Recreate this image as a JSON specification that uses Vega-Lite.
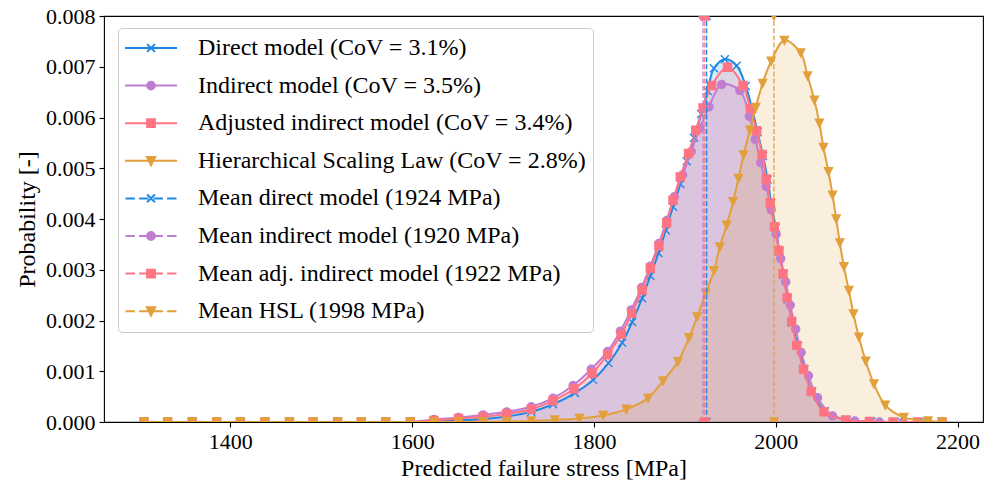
{
  "$schema": "https://vega.github.io/schema/vega-lite/v6.json",
  "width": 879,
  "height": 406,
  "autosize": {"type": "none"},
  "padding": {"left": 104, "top": 16, "right": 1, "bottom": 61},
  "background": "white",
  "config": {
    "font": "Liberation Serif",
    "view": {"stroke": "#000", "strokeWidth": 1.1},
    "axis": {
      "labelFont": "Liberation Serif", "labelFontSize": 22, "labelColor": "#000",
      "titleFont": "Liberation Serif", "titleFontSize": 24, "titleFontWeight": "normal", "titleColor": "#000",
      "tickColor": "#000", "tickSize": 5, "tickWidth": 1.1, "domain": false, "grid": false, "labelPadding": 4
    },
    "legend": {
      "labelFont": "Liberation Serif", "labelFontSize": 24, "labelColor": "#000", "labelLimit": 0
    }
  },
  "datasets": {
    "curves": [
      {"s":"direct","x":1305,"y":0},{"s":"direct","x":1331,"y":0},{"s":"direct","x":1358,"y":0},{"s":"direct","x":1385,"y":0},{"s":"direct","x":1411,"y":0},{"s":"direct","x":1438,"y":0},{"s":"direct","x":1465,"y":0},{"s":"direct","x":1491,"y":0},{"s":"direct","x":1518,"y":0},{"s":"direct","x":1544,"y":0},{"s":"direct","x":1571,"y":0},{"s":"direct","x":1598,"y":0},
      {"s":"direct","x":1624,"y":0.00001},{"s":"direct","x":1651,"y":0.00003},{"s":"direct","x":1678,"y":0.00006},{"s":"direct","x":1704,"y":0.00011},{"s":"direct","x":1731,"y":0.0002},{"s":"direct","x":1755,"y":0.00035},{"s":"direct","x":1779,"y":0.00057},{"s":"direct","x":1799,"y":0.00083},{"s":"direct","x":1816,"y":0.00116},{"s":"direct","x":1831,"y":0.00156},{"s":"direct","x":1842,"y":0.00197},{"s":"direct","x":1853,"y":0.00244},{"s":"direct","x":1862,"y":0.00288},{"s":"direct","x":1871,"y":0.00333},{"s":"direct","x":1879,"y":0.00378},{"s":"direct","x":1887,"y":0.00424},{"s":"direct","x":1895,"y":0.00469},{"s":"direct","x":1902,"y":0.00514},{"s":"direct","x":1910,"y":0.0056},{"s":"direct","x":1918,"y":0.00607},{"s":"direct","x":1925,"y":0.00652},{"s":"direct","x":1932,"y":0.00697},{"s":"direct","x":1944,"y":0.00715},{"s":"direct","x":1957,"y":0.00702},{"s":"direct","x":1967,"y":0.00662},{"s":"direct","x":1974,"y":0.00617},{"s":"direct","x":1980,"y":0.00571},{"s":"direct","x":1986,"y":0.00524},{"s":"direct","x":1991,"y":0.00478},{"s":"direct","x":1995,"y":0.00431},{"s":"direct","x":2000,"y":0.00383},{"s":"direct","x":2004,"y":0.00336},{"s":"direct","x":2008.5,"y":0.0029},{"s":"direct","x":2013,"y":0.00242},{"s":"direct","x":2018,"y":0.00196},{"s":"direct","x":2024.5,"y":0.0015},{"s":"direct","x":2031.5,"y":0.00103},{"s":"direct","x":2040,"y":0.00059},{"s":"direct","x":2054,"y":0.00021},{"s":"direct","x":2078,"y":0.00004},{"s":"direct","x":2105,"y":0.00001},{"s":"direct","x":2131,"y":0},{"s":"direct","x":2158,"y":0},{"s":"direct","x":2183,"y":0},

      {"s":"indirect","x":1305,"y":0},{"s":"indirect","x":1331,"y":0},{"s":"indirect","x":1358,"y":0},{"s":"indirect","x":1385,"y":0},{"s":"indirect","x":1411,"y":0},{"s":"indirect","x":1438,"y":0},{"s":"indirect","x":1465,"y":0},{"s":"indirect","x":1491,"y":0},{"s":"indirect","x":1518,"y":0},{"s":"indirect","x":1544,"y":0},{"s":"indirect","x":1571,"y":0},{"s":"indirect","x":1598,"y":0},
      {"s":"indirect","x":1624,"y":0.00005},{"s":"indirect","x":1651,"y":0.00009},{"s":"indirect","x":1678,"y":0.00014},{"s":"indirect","x":1704,"y":0.0002},{"s":"indirect","x":1731,"y":0.0003},{"s":"indirect","x":1755,"y":0.00047},{"s":"indirect","x":1777,"y":0.00072},{"s":"indirect","x":1797,"y":0.00104},{"s":"indirect","x":1815,"y":0.00139},{"s":"indirect","x":1829,"y":0.00179},{"s":"indirect","x":1841,"y":0.00221},{"s":"indirect","x":1852.5,"y":0.00265},{"s":"indirect","x":1862,"y":0.00307},{"s":"indirect","x":1871.5,"y":0.00352},{"s":"indirect","x":1880,"y":0.00397},{"s":"indirect","x":1888.5,"y":0.00444},{"s":"indirect","x":1897.5,"y":0.00487},{"s":"indirect","x":1907,"y":0.00533},{"s":"indirect","x":1916.5,"y":0.00579},{"s":"indirect","x":1926.5,"y":0.00621},{"s":"indirect","x":1940.5,"y":0.00665},{"s":"indirect","x":1960.5,"y":0.00653},{"s":"indirect","x":1971,"y":0.00602},{"s":"indirect","x":1977.5,"y":0.00557},{"s":"indirect","x":1983.5,"y":0.00511},{"s":"indirect","x":1989.5,"y":0.00464},{"s":"indirect","x":1995,"y":0.00418},{"s":"indirect","x":2000.5,"y":0.0037},{"s":"indirect","x":2005.5,"y":0.00322},{"s":"indirect","x":2011,"y":0.00276},{"s":"indirect","x":2016,"y":0.0023},{"s":"indirect","x":2022,"y":0.00183},{"s":"indirect","x":2028,"y":0.00137},{"s":"indirect","x":2036,"y":0.00091},{"s":"indirect","x":2046,"y":0.00048},{"s":"indirect","x":2062.5,"y":0.00012},{"s":"indirect","x":2087,"y":0.00002},{"s":"indirect","x":2114,"y":0},{"s":"indirect","x":2140,"y":0},{"s":"indirect","x":2167,"y":0},{"s":"indirect","x":2183,"y":0},

      {"s":"adjusted","x":1305,"y":0},{"s":"adjusted","x":1331,"y":0},{"s":"adjusted","x":1358,"y":0},{"s":"adjusted","x":1385,"y":0},{"s":"adjusted","x":1411,"y":0},{"s":"adjusted","x":1438,"y":0},{"s":"adjusted","x":1465,"y":0},{"s":"adjusted","x":1491,"y":0},{"s":"adjusted","x":1518,"y":0},{"s":"adjusted","x":1544,"y":0},{"s":"adjusted","x":1571,"y":0},{"s":"adjusted","x":1598,"y":0},
      {"s":"adjusted","x":1624,"y":0.00003},{"s":"adjusted","x":1651,"y":0.00007},{"s":"adjusted","x":1678,"y":0.0001},{"s":"adjusted","x":1704,"y":0.00016},{"s":"adjusted","x":1731,"y":0.00025},{"s":"adjusted","x":1755,"y":0.00042},{"s":"adjusted","x":1778,"y":0.00065},{"s":"adjusted","x":1798,"y":0.00096},{"s":"adjusted","x":1815,"y":0.00133},{"s":"adjusted","x":1830,"y":0.00173},{"s":"adjusted","x":1841.5,"y":0.00214},{"s":"adjusted","x":1853,"y":0.0026},{"s":"adjusted","x":1862,"y":0.00303},{"s":"adjusted","x":1871.5,"y":0.00347},{"s":"adjusted","x":1880,"y":0.00392},{"s":"adjusted","x":1887,"y":0.00437},{"s":"adjusted","x":1895,"y":0.00483},{"s":"adjusted","x":1904,"y":0.00529},{"s":"adjusted","x":1912,"y":0.00575},{"s":"adjusted","x":1920,"y":0.00619},{"s":"adjusted","x":1929.5,"y":0.00663},{"s":"adjusted","x":1947,"y":0.00699},{"s":"adjusted","x":1964,"y":0.00663},{"s":"adjusted","x":1972,"y":0.00618},{"s":"adjusted","x":1979,"y":0.00574},{"s":"adjusted","x":1985,"y":0.00527},{"s":"adjusted","x":1989.5,"y":0.00479},{"s":"adjusted","x":1994,"y":0.00432},{"s":"adjusted","x":1998.5,"y":0.00385},{"s":"adjusted","x":2003.5,"y":0.00338},{"s":"adjusted","x":2008,"y":0.00292},{"s":"adjusted","x":2012.5,"y":0.00245},{"s":"adjusted","x":2017.5,"y":0.00198},{"s":"adjusted","x":2023,"y":0.00151},{"s":"adjusted","x":2030.5,"y":0.00104},{"s":"adjusted","x":2039,"y":0.0006},{"s":"adjusted","x":2053,"y":0.0002},{"s":"adjusted","x":2077,"y":0.00004},{"s":"adjusted","x":2103,"y":0.00001},{"s":"adjusted","x":2129,"y":0},{"s":"adjusted","x":2156,"y":0},{"s":"adjusted","x":2183,"y":0},

      {"s":"hsl","x":1305,"y":0},{"s":"hsl","x":1331,"y":0},{"s":"hsl","x":1358,"y":0},{"s":"hsl","x":1385,"y":0},{"s":"hsl","x":1411,"y":0},{"s":"hsl","x":1438,"y":0},{"s":"hsl","x":1465,"y":0},{"s":"hsl","x":1491,"y":0},{"s":"hsl","x":1518,"y":0},{"s":"hsl","x":1544,"y":0},{"s":"hsl","x":1571,"y":0},{"s":"hsl","x":1598,"y":0},{"s":"hsl","x":1624,"y":0},{"s":"hsl","x":1651,"y":0},
      {"s":"hsl","x":1678,"y":0.000005},{"s":"hsl","x":1704,"y":0.00001},{"s":"hsl","x":1731,"y":0.00002},{"s":"hsl","x":1757,"y":0.00004},{"s":"hsl","x":1784,"y":0.00007},{"s":"hsl","x":1810,"y":0.00013},{"s":"hsl","x":1835.5,"y":0.00025},{"s":"hsl","x":1859.5,"y":0.00047},{"s":"hsl","x":1876,"y":0.00081},{"s":"hsl","x":1892.5,"y":0.00119},{"s":"hsl","x":1904.5,"y":0.00166},{"s":"hsl","x":1913.5,"y":0.00207},{"s":"hsl","x":1923,"y":0.00254},{"s":"hsl","x":1932,"y":0.00298},{"s":"hsl","x":1938.5,"y":0.00345},{"s":"hsl","x":1946,"y":0.00388},{"s":"hsl","x":1953,"y":0.00434},{"s":"hsl","x":1959,"y":0.0048},{"s":"hsl","x":1964.5,"y":0.00526},{"s":"hsl","x":1971.5,"y":0.00575},{"s":"hsl","x":1978,"y":0.0062},{"s":"hsl","x":1985.5,"y":0.00667},{"s":"hsl","x":1995,"y":0.00711},{"s":"hsl","x":2009.5,"y":0.00752},{"s":"hsl","x":2027.5,"y":0.00727},{"s":"hsl","x":2035,"y":0.00682},{"s":"hsl","x":2042.5,"y":0.00634},{"s":"hsl","x":2048,"y":0.00589},{"s":"hsl","x":2052.5,"y":0.00541},{"s":"hsl","x":2058,"y":0.00493},{"s":"hsl","x":2062.5,"y":0.00447},{"s":"hsl","x":2066.5,"y":0.004},{"s":"hsl","x":2070.5,"y":0.00353},{"s":"hsl","x":2075,"y":0.00306},{"s":"hsl","x":2080.5,"y":0.00259},{"s":"hsl","x":2085.5,"y":0.00213},{"s":"hsl","x":2091.5,"y":0.00167},{"s":"hsl","x":2099,"y":0.0012},{"s":"hsl","x":2108,"y":0.00075},{"s":"hsl","x":2120.5,"y":0.00033},{"s":"hsl","x":2141,"y":0.00009},{"s":"hsl","x":2167.5,"y":0.00002},{"s":"hsl","x":2183,"y":0}
    ],
    "means": [
      {"s":"direct","x":1924,"y":0},{"s":"direct","x":1924,"y":0.008},
      {"s":"indirect","x":1920,"y":0},{"s":"indirect","x":1920,"y":0.008},
      {"s":"adjusted","x":1922,"y":0},{"s":"adjusted","x":1922,"y":0.008},
      {"s":"hsl","x":1998,"y":0},{"s":"hsl","x":1998,"y":0.008}
    ]
  },
  "encoding": {
    "x": {"field": "x", "type": "quantitative",
      "scale": {"domain": [1261, 2228], "nice": false, "zero": false},
      "axis": {"values": [1400, 1600, 1800, 2000, 2200], "format": "d", "title": "Predicted failure stress [MPa]", "titlePadding": 4, "labelPadding": 4}},
    "y": {"field": "y", "type": "quantitative", "stack": null,
      "scale": {"domain": [0, 0.008], "nice": false, "zero": false},
      "axis": {"values": [0, 0.001, 0.002, 0.003, 0.004, 0.005, 0.006, 0.007, 0.008], "format": ".3f", "title": "Probability [-]", "titlePadding": 6, "labelPadding": 4}}
  },
  "layer": [
    {"data": {"name": "curves"},
     "mark": {"type": "area", "interpolate": "catmull-rom", "opacity": 0.18, "clip": true},
     "encoding": {"fill": {"field": "s", "type": "nominal", "scale": {"domain": ["direct","indirect","adjusted","hsl"], "range": ["#1E88E5","#C07DD2","#FF7482","#E2A03C"]}, "legend": null}}},
    {"data": {"name": "curves"}, "transform": [{"filter": "datum.s === 'direct'"}],
     "layer": [
       {"mark": {"type": "line", "interpolate": "catmull-rom", "color": "#1E88E5", "strokeWidth": 2, "clip": true}, "encoding": {}},
       {"mark": {"type": "point", "shape": "M-1,-1L1,1M-1,1L1,-1", "filled": true, "size": 64, "color": "#1E88E5", "stroke": "#1E88E5", "strokeWidth": 1.4, "opacity": 1, "clip": true}, "encoding": {}}
     ]},
    {"data": {"name": "curves"}, "transform": [{"filter": "datum.s === 'indirect'"}],
     "layer": [
       {"mark": {"type": "line", "interpolate": "catmull-rom", "color": "#C07DD2", "strokeWidth": 2, "clip": true}, "encoding": {}},
       {"mark": {"type": "point", "shape": "M1,0A1,1,0,1,1,-1,0A1,1,0,1,1,1,0Z", "filled": true, "size": 64, "color": "#C07DD2", "stroke": "#C07DD2", "strokeWidth": 1.4, "opacity": 1, "clip": true}, "encoding": {}}
     ]},
    {"data": {"name": "curves"}, "transform": [{"filter": "datum.s === 'adjusted'"}],
     "layer": [
       {"mark": {"type": "line", "interpolate": "catmull-rom", "color": "#FF7482", "strokeWidth": 2, "clip": true}, "encoding": {}},
       {"mark": {"type": "point", "shape": "M-1,-1H1V1H-1Z", "filled": true, "size": 64, "color": "#FF7482", "stroke": "#FF7482", "strokeWidth": 1.4, "opacity": 1, "clip": true}, "encoding": {}}
     ]},
    {"data": {"name": "curves"}, "transform": [{"filter": "datum.s === 'hsl'"}],
     "layer": [
       {"mark": {"type": "line", "interpolate": "catmull-rom", "color": "#E2A03C", "strokeWidth": 2, "clip": true}, "encoding": {}},
       {"mark": {"type": "point", "shape": "M-1,-1H1L0,1Z", "filled": true, "size": 64, "color": "#E2A03C", "stroke": "#E2A03C", "strokeWidth": 1.4, "opacity": 1, "clip": true}, "encoding": {}}
     ]},
    {"data": {"name": "means"},
     "mark": {"type": "line", "strokeWidth": 1.3, "strokeDash": [5, 2.2], "clip": true},
     "encoding": {"stroke": {"field": "s", "type": "nominal", "scale": {"domain": ["direct","indirect","adjusted","hsl"], "range": ["#1E88E5","#C07DD2","#FF7482","#E2A03C"]}, "legend": null}}},
    {"data": {"name": "means"}, "transform": [{"filter": "datum.s === 'direct'"}],
     "mark": {"type": "point", "shape": "M-1,-1L1,1M-1,1L1,-1", "filled": true, "size": 64, "color": "#1E88E5", "stroke": "#1E88E5", "strokeWidth": 1.4, "opacity": 1, "clip": true}, "encoding": {}},
    {"data": {"name": "means"}, "transform": [{"filter": "datum.s === 'indirect'"}],
     "mark": {"type": "point", "shape": "M1,0A1,1,0,1,1,-1,0A1,1,0,1,1,1,0Z", "filled": true, "size": 64, "color": "#C07DD2", "stroke": "#C07DD2", "strokeWidth": 1.4, "opacity": 1, "clip": true}, "encoding": {}},
    {"data": {"name": "means"}, "transform": [{"filter": "datum.s === 'adjusted'"}],
     "mark": {"type": "point", "shape": "M-1,-1H1V1H-1Z", "filled": true, "size": 64, "color": "#FF7482", "stroke": "#FF7482", "strokeWidth": 1.4, "opacity": 1, "clip": true}, "encoding": {}},
    {"data": {"name": "means"}, "transform": [{"filter": "datum.s === 'hsl'"}],
     "mark": {"type": "point", "shape": "M-1,-1H1L0,1Z", "filled": true, "size": 64, "color": "#E2A03C", "stroke": "#E2A03C", "strokeWidth": 1.4, "opacity": 1, "clip": true}, "encoding": {}},
    {"data": {"values": []},
     "mark": {"type": "point", "filled": true, "opacity": 1},
     "encoding": {
       "color": {"field": "label", "type": "nominal",
         "scale": {"domain": ["Direct model (CoV = 3.1%)", "Indirect model (CoV = 3.5%)", "Adjusted indirect model (CoV = 3.4%)", "Hierarchical Scaling Law (CoV = 2.8%)", "Mean direct model (1924 MPa)", "Mean indirect model (1920 MPa)", "Mean adj. indirect model (1922 MPa)", "Mean HSL (1998 MPa)"],
                   "range": ["#1E88E5","#C07DD2","#FF7482","#E2A03C","#1E88E5","#C07DD2","#FF7482","#E2A03C"]},
         "legend": {"title": null, "orient": "none", "legendX": 14, "legendY": 12, "padding": 6, "rowPadding": 9.6, "clipHeight": 28,
           "symbolSize": 2704, "symbolStrokeWidth": 2, "labelOffset": 20, "symbolOpacity": 1,
           "fillColor": "rgba(255,255,255,0.8)", "strokeColor": "#cccccc", "cornerRadius": 4,
           "encode": {"symbols": {"update": {"fill": {"scale": "color", "field": "value"}, "stroke": {"scale": "color", "field": "value"}, "strokeWidth": {"value": 2}, "opacity": {"value": 1}}}}}},
       "shape": {"field": "label", "type": "nominal",
         "scale": {"domain": ["Direct model (CoV = 3.1%)", "Indirect model (CoV = 3.5%)", "Adjusted indirect model (CoV = 3.4%)", "Hierarchical Scaling Law (CoV = 2.8%)", "Mean direct model (1924 MPa)", "Mean indirect model (1920 MPa)", "Mean adj. indirect model (1922 MPa)", "Mean HSL (1998 MPa)"],
                   "range": [
                     "M-1,0H1M-0.15,-0.15L0.15,0.15M-0.15,0.15L0.15,-0.15",
                     "M-1,0H1M0.15,0A0.15,0.15,0,1,1,-0.15,0A0.15,0.15,0,1,1,0.15,0Z",
                     "M-1,0H1M-0.15,-0.15H0.15V0.15H-0.15Z",
                     "M-1,0H1M-0.16,-0.15H0.16L0,0.17Z",
                     "M-0.98,0H-0.62M-0.46,0H-0.1M0.1,0H0.46M0.62,0H0.98M-0.15,-0.15L0.15,0.15M-0.15,0.15L0.15,-0.15",
                     "M-0.98,0H-0.62M-0.46,0H-0.1M0.1,0H0.46M0.62,0H0.98M0.15,0A0.15,0.15,0,1,1,-0.15,0A0.15,0.15,0,1,1,0.15,0Z",
                     "M-0.98,0H-0.62M-0.46,0H-0.1M0.1,0H0.46M0.62,0H0.98M-0.15,-0.15H0.15V0.15H-0.15Z",
                     "M-0.98,0H-0.62M-0.46,0H-0.1M0.1,0H0.46M0.62,0H0.98M-0.16,-0.15H0.16L0,0.17Z"
                   ]},
         "legend": {"title": null, "orient": "none", "legendX": 14, "legendY": 12, "padding": 6, "rowPadding": 9.6, "clipHeight": 28,
           "symbolSize": 2704, "symbolStrokeWidth": 2, "labelOffset": 20, "symbolOpacity": 1,
           "fillColor": "rgba(255,255,255,0.8)", "strokeColor": "#cccccc", "cornerRadius": 4}}
     }}
  ]
}
